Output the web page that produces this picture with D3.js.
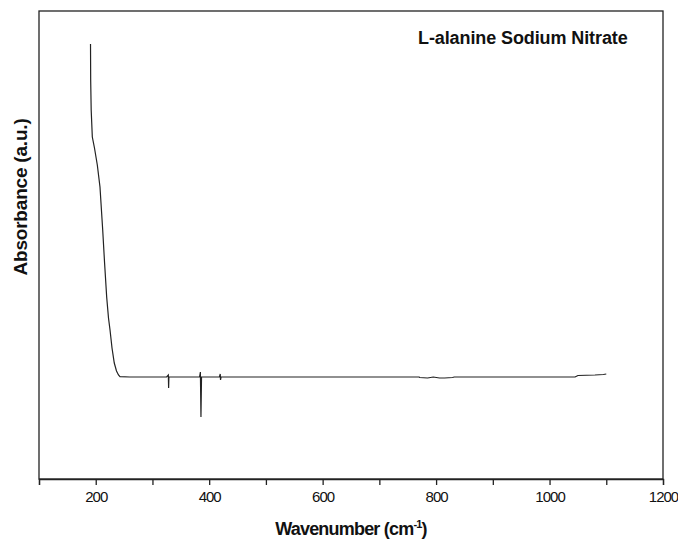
<!DOCTYPE html>
<html><head><meta charset="utf-8">
<script src="https://cdn.jsdelivr.net/npm/d3@7"></script>
<style>body{margin:0;background:#fff}svg{display:block}text{font-family:"Liberation Sans",Arial,sans-serif;fill:#111}</style>
</head><body>
<script>
const title = "L-alanine Sodium Nitrate";
const xTicks = [100,200,300,400,500,600,700,800,900,1000,1100,1200];
const xTickLabels = ["","200","","400","","600","","800","","1000","","1200"];
const wavenumber = [190.8,191.1,192.0,194.0,197.8,202.8,207.5,212.3,215.5,219.3,222.5,225.2,228.7,232.7,236.6,240.1,242.8,260,300,
  325,328,328.5,329,383,384.5,385.5,386.5,418,419.5,420,421,500,600,700,770,771,785,795,806,815,829,832,900,1000,1045,1050,1080,1095,1100];
const absorbance = [4.35,3.99,3.69,3.42,3.31,3.14,2.92,2.49,2.17,1.82,1.61,1.49,1.31,1.16,1.08,1.04,1.023,1.02,1.02,
  1.02,1.04,0.91,1.02,1.02,1.07,0.62,1.02,1.02,1.05,0.99,1.02,1.02,1.02,1.02,1.02,1.015,1.01,1.02,1.01,1.01,1.015,1.02,1.02,1.02,1.02,1.035,1.04,1.045,1.05];

const W=678,H=541, m={l:39,r:15,t:11,b:62};
const svg=d3.select("body").append("svg").attr("width",W).attr("height",H);
const x=d3.scaleLinear().domain([100,1200]).range([m.l,W-m.r]);
const y=d3.scaleLinear().domain([0,4.68]).range([H-m.b,m.t]);

svg.append("rect").attr("x",m.l).attr("y",m.t).attr("width",x(1200)-m.l).attr("height",y(0)-m.t)
  .attr("fill","none").attr("stroke","#222").attr("stroke-width",1.3);

const ax=svg.append("g").attr("transform",`translate(0,${y(0)})`)
  .call(d3.axisBottom(x).tickValues(xTicks).tickSize(6).tickPadding(6).tickFormat((d,i)=>xTickLabels[i]));
ax.select(".domain").attr("stroke","#222").attr("stroke-width",1.3);
ax.selectAll(".tick line").attr("stroke","#222").attr("stroke-width",1.3);
ax.selectAll(".tick text").attr("font-size",15).attr("letter-spacing",-1).attr("fill","#111")
  .style("font-family","'Liberation Sans',Arial,sans-serif");

const pts=wavenumber.map((w,i)=>[w,absorbance[i]]);
svg.append("path").datum(pts).attr("fill","none").attr("stroke","#222").attr("stroke-width",1.2)
  .attr("d",d3.line().x(d=>x(d[0])).y(d=>y(d[1])));

svg.append("text").attr("x",418).attr("y",44).attr("font-size",18).attr("font-weight","bold")
  .attr("letter-spacing",-0.1).text(title);

const xl=svg.append("text").attr("x",(x(100)+x(1200))/2).attr("y",535).attr("text-anchor","middle")
  .attr("font-size",18).attr("font-weight","bold").attr("letter-spacing",-0.8);
xl.append("tspan").text("Wavenumber (cm");
xl.append("tspan").attr("font-size",11).attr("dy",-7).text("-1");
xl.append("tspan").attr("dy",7).text(")");

svg.append("text").attr("transform","translate(27,197) rotate(-90)").attr("text-anchor","middle")
  .attr("font-size",19).attr("font-weight","bold").attr("letter-spacing",-0.2).text("Absorbance (a.u.)");
</script>
</body></html>
